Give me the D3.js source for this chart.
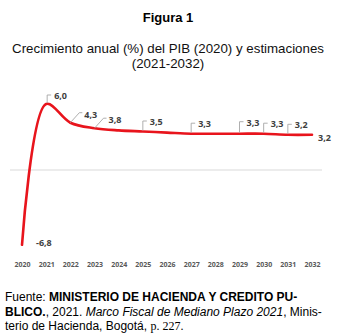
<!DOCTYPE html>
<html><head><meta charset="utf-8">
<script src="https://cdn.jsdelivr.net/npm/d3@7"></script>
<style>
html,body{margin:0;padding:0;background:#fff;}
svg{display:block;}
</style></head>
<body>
<svg id="chart" width="340" height="333"></svg>
<script>
const years = ["2020","2021","2022","2023","2024","2025","2026","2027","2028","2029","2030","2031","2032"];
const growth = [-6.8, 6.0, 4.3, 3.8, 3.6, 3.5, 3.4, 3.3, 3.3, 3.3, 3.3, 3.2, 3.2];
const labelText = ["-6,8","6,0","4,3","3,8",null,"3,5",null,"3,3",null,"3,3","3,3","3,2","3,2"];
const titleText = "Figura 1";
const subtitleLines = ["Crecimiento anual (%) del PIB (2020) y estimaciones","(2021-2032)"];

const svg = d3.select("#chart");
const x = d3.scalePoint().domain(years).range([22, 312]);
const y = d3.scaleLinear().domain([-8, 8]).range([258, 82]);

// titles
svg.append("text").attr("x",168).attr("y",22).attr("text-anchor","middle")
  .style("font","bold 13px 'Liberation Sans', Arial, sans-serif").attr("fill","#000").text(titleText);
subtitleLines.forEach((t,i)=>{
  svg.append("text").attr("x",168).attr("y",53+i*15).attr("text-anchor","middle")
    .style("font","13.3px 'Liberation Sans', Arial, sans-serif").attr("fill","#111").text(t);
});

// zero line
svg.append("line").attr("x1",10).attr("x2",322).attr("y1",y(0)).attr("y2",y(0))
  .attr("stroke","#d9d9d9").attr("stroke-width",1);

// x axis labels
const xAxis = d3.axisBottom(x).tickSize(0).tickPadding(0);
const gx = svg.append("g").attr("transform","translate(0,262)").call(xAxis);
gx.select(".domain").remove();
gx.selectAll("text").style("font","bold 7px 'Open Sans', 'Liberation Sans', sans-serif").attr("fill","#595959");

// line
const line = d3.line().x((d,i)=>x(years[i])).y(d=>y(d)).curve(d3.curveCatmullRom.alpha(0.5));
svg.append("path").datum(growth).attr("d",line).attr("fill","none")
  .attr("stroke","#e8141c").attr("stroke-width",2.6).attr("stroke-linecap","round");

// labels with leader lines
const leaderKind = ["none","vert","diag","diag",null,"vert",null,"vert",null,"vert","vert","vert","none"];
const lg = svg.append("g");
growth.forEach((v,i)=>{
  const t = labelText[i]; if(!t) return;
  const px = x(years[i]), py = y(v);
  const k = leaderKind[i];
  let tx, ty;
  if(i===0){ tx = px+14; ty = py-2; }
  else if(i===12){ tx = px+6; ty = py+3; }
  else if(k==="vert"){
    const top = i===1 ? py-9 : (i===9 ? py-12 : py-10.5);
    const bx = i===1 ? px+1 : px;
    lg.append("path").attr("d",`M${bx},${py-1}L${bx},${top}L${bx+4},${top}`)
      .attr("fill","none").attr("stroke","#a6a6a6").attr("stroke-width",0.9);
    tx = bx+7; ty = top+1;
  } else {
    const ex = px+9, ey = py-10;
    lg.append("path").attr("d",`M${px},${py}L${ex},${ey}L${ex+3},${ey}`)
      .attr("fill","none").attr("stroke","#a6a6a6").attr("stroke-width",0.9);
    tx = ex+5; ty = ey+2;
  }
  lg.append("text").attr("x",tx).attr("y",ty).attr("dy","0.35em")
    .style("font","bold 9px 'Open Sans', 'Liberation Sans', sans-serif").attr("fill","#404040").text(t);
});

// footer
const ff = "12px 'Liberation Sans', Arial, sans-serif";
const f1 = svg.append("text").attr("x",5).attr("y",301).style("font",ff).attr("fill","#000");
f1.append("tspan").text("Fuente: ");
f1.append("tspan").attr("font-weight","bold").text("MINISTERIO DE HACIENDA Y CREDITO PU-");
const f2 = svg.append("text").attr("x",5).attr("y",316).style("font",ff).attr("fill","#000");
f2.append("tspan").attr("font-weight","bold").text("BLICO.");
f2.append("tspan").text(", 2021. ");
f2.append("tspan").attr("font-style","italic").text("Marco Fiscal de Mediano Plazo 2021");
f2.append("tspan").text(", Minis-");
const f3 = svg.append("text").attr("x",5).attr("y",330).style("font",ff).attr("fill","#000");
f3.append("tspan").text("terio de Hacienda, Bogotá, ");
f3.append("tspan").style("font-family","'Liberation Serif', 'Times New Roman', serif").text("p. 227.");
</script>
</body></html>
